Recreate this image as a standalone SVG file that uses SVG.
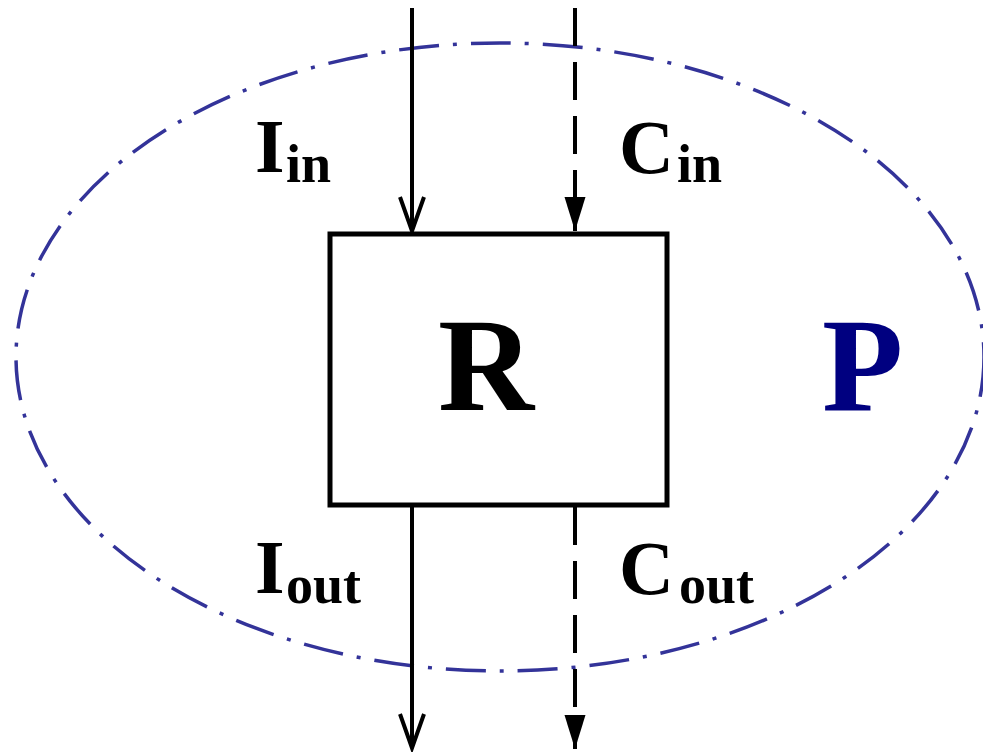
<svg xmlns="http://www.w3.org/2000/svg" width="983" height="754" viewBox="0 0 983 754">
<style>
.lbl{font-family:"Liberation Serif","Times New Roman",serif;font-weight:bold;fill:#000}
.big{font-size:76px}
.sub{font-size:54px}
.flow{stroke:#000;stroke-width:4;fill:none}
.solid{marker-end:url(#open)}
.dash{stroke-dasharray:38 16;marker-end:url(#filled)}
</style>
<defs>
<marker id="open" markerUnits="userSpaceOnUse" viewBox="-4 -16 42 32" markerWidth="42" markerHeight="32" refX="34" refY="0" orient="auto">
<path d="M0,-12 L34,0 L0,12" fill="none" stroke="#000" stroke-width="4"/>
</marker>
<marker id="filled" markerUnits="userSpaceOnUse" viewBox="-4 -16 42 32" markerWidth="42" markerHeight="32" refX="34" refY="0" orient="auto">
<path d="M0,-10.5 L34,0 L0,10.5 Z" fill="#000"/>
</marker>
</defs>
<rect width="983" height="754" fill="#fff"/>
<g id="boundary-P">
<ellipse cx="500" cy="357" rx="484" ry="314" fill="none" stroke="#333399" stroke-width="3.5" stroke-dasharray="40 14 4 14"/>
<text class="lbl" x="822" y="410" font-size="133" style="fill:#000080">P</text>
</g>
<g id="connectors">
<line class="flow solid" x1="412" y1="8" x2="412" y2="231"/>
<line class="flow dash" x1="575" y1="8" x2="575" y2="231"/>
<line class="flow solid" x1="412" y1="507" x2="412" y2="748"/>
<line class="flow dash" x1="575" y1="507" x2="575" y2="749"/>
</g>
<g id="node-R">
<rect x="330" y="234" width="337" height="271" fill="none" stroke="#000" stroke-width="5"/>
<text class="lbl" x="438" y="410" font-size="133">R</text>
</g>
<g id="label-Iin">
<text class="lbl"><tspan class="big" x="255" y="172">I</tspan><tspan class="sub" x="286" y="182">in</tspan></text>
</g>
<g id="label-Cin">
<text class="lbl"><tspan class="big" x="619" y="173">C</tspan><tspan class="sub" x="677" y="182">in</tspan></text>
</g>
<g id="label-Iout">
<text class="lbl"><tspan class="big" x="255" y="593">I</tspan><tspan class="sub" x="286" y="603">out</tspan></text>
</g>
<g id="label-Cout">
<text class="lbl"><tspan class="big" x="619" y="594">C</tspan><tspan class="sub" x="679" y="603">out</tspan></text>
</g>
</svg>
